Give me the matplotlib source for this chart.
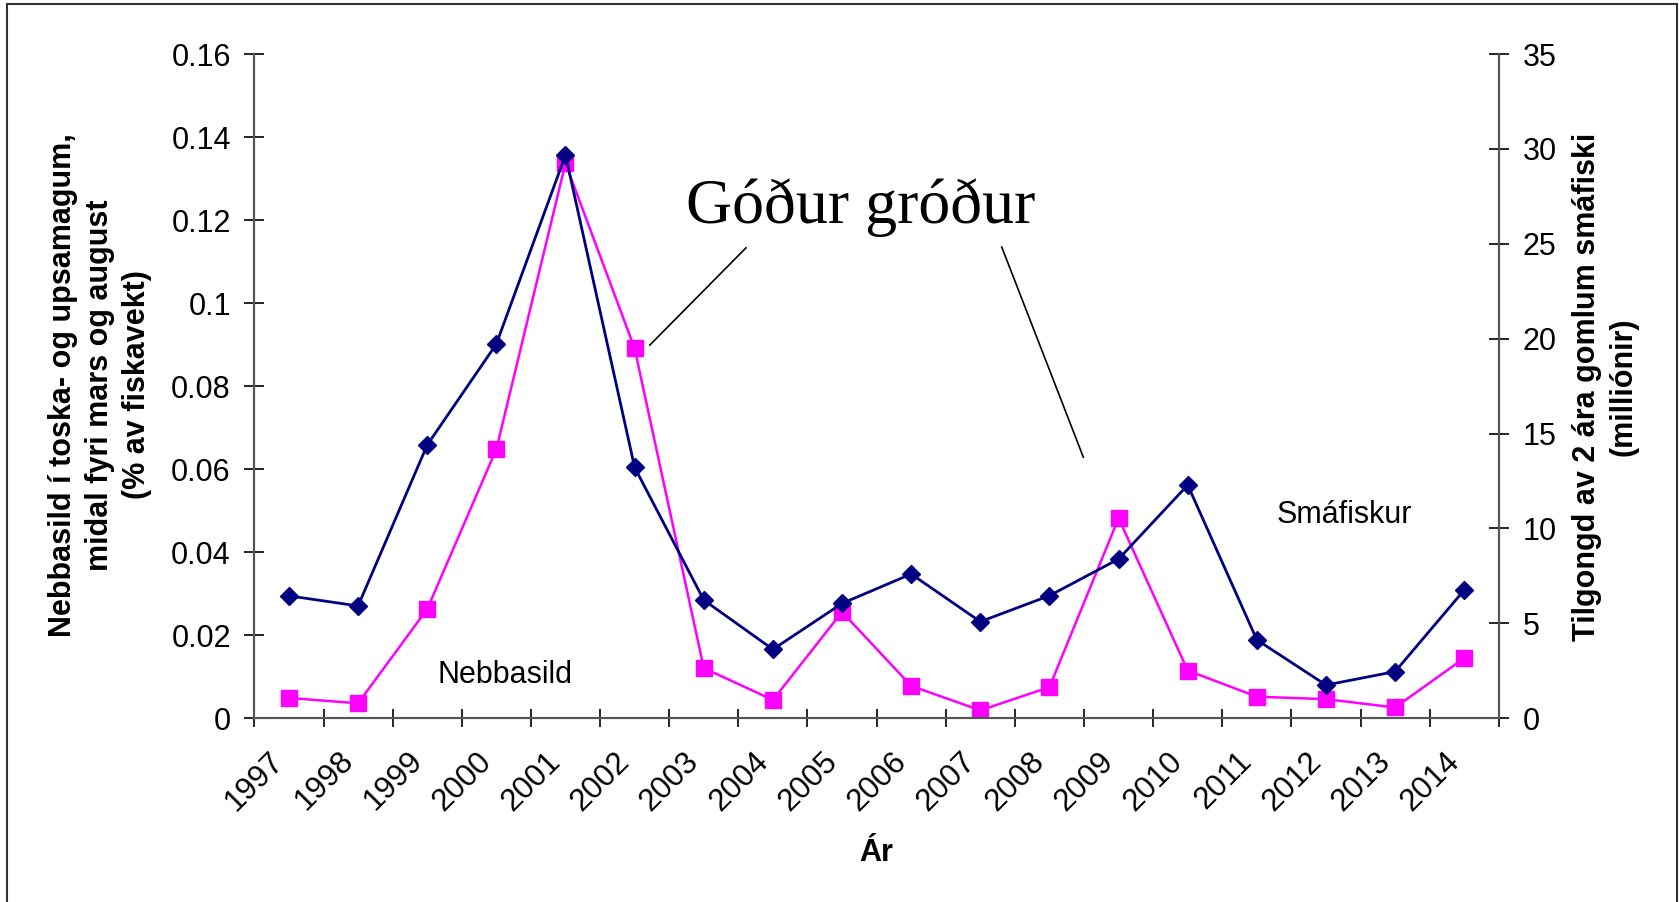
import matplotlib
matplotlib.use("Agg")
import matplotlib.pyplot as plt
import matplotlib.patches as patches
from matplotlib.transforms import ScaledTranslation

plt.rcParams['font.family'] = ['Liberation Sans', 'DejaVu Sans']

years = ['1997', '1998', '1999', '2000', '2001', '2002', '2003', '2004', '2005',
         '2006', '2007', '2008', '2009', '2010', '2011', '2012', '2013', '2014']
# left axis: Nebbasild (% av fiskavekt)
nebbasild = [0.0049, 0.0036, 0.0263, 0.0648, 0.1337, 0.0891, 0.0121, 0.0044, 0.0256,
             0.0078, 0.0019, 0.0075, 0.0482, 0.0115, 0.0052, 0.0046, 0.0026, 0.0145]
# right axis: Smáfiskur (milliónir)
smafiskur = [6.45, 5.92, 14.4, 19.72, 29.68, 13.22, 6.23, 3.63, 6.05,
             7.60, 5.09, 6.46, 8.39, 12.29, 4.13, 1.75, 2.46, 6.76]
left_ticks = [0, 0.02, 0.04, 0.06, 0.08, 0.1, 0.12, 0.14, 0.16]
left_ticklabels = ['0', '0.02', '0.04', '0.06', '0.08', '0.1', '0.12', '0.14', '0.16']
right_ticks = [0, 5, 10, 15, 20, 25, 30, 35]

fig = plt.figure(figsize=(16.79, 9.02), dpi=100)
ax = fig.add_axes([0.1515, 0.2037, 0.7412, 0.7364])
ax2 = ax.twinx()

x = list(range(len(years)))
ax.plot(x, nebbasild, color='#FF00FF', lw=1.8, marker='s', ms=12,
        mec='#FF00FF', mfc='#FF00FF', zorder=3)
ax2.plot(x, smafiskur, color='#000080', lw=2.0, marker='D', ms=9,
         mec='#000080', mfc='#000080', zorder=3)

ax.set_xlim(-0.5, len(years) - 0.5)
ax.set_ylim(0, 0.16)
ax2.set_ylim(0, 35)

# tick marks between categories, labels at category centres
ax.set_xticks([i - 0.5 for i in range(len(years) + 1)])
ax.set_xticklabels([])
ax.set_xticks(x, minor=True)
ax.set_xticklabels(years, minor=True, fontsize=22.5)
ax.tick_params(axis='x', which='major', direction='inout', length=13, width=1.2)
ax.tick_params(axis='x', which='minor', length=0, pad=20)
off = ScaledTranslation(-0.2, 0, fig.dpi_scale_trans)
for lab in ax.get_xticklabels(minor=True):
    lab.set_rotation(45)
    lab.set_ha('right')
    lab.set_rotation_mode('anchor')
    lab.set_transform(lab.get_transform() + off)

ax.set_yticks(left_ticks)
ax.set_yticklabels(left_ticklabels, fontsize=22)
ax.tick_params(axis='y', direction='inout', length=14, width=1.2, pad=10)
ax2.set_yticks(right_ticks)
ax2.set_yticklabels([str(t) for t in right_ticks], fontsize=22)
ax2.tick_params(axis='y', direction='inout', length=14, width=1.2, pad=10)

for a in (ax, ax2):
    a.spines['top'].set_visible(False)
    for s in ('left', 'right', 'bottom'):
        a.spines[s].set_color('#555555')
        a.spines[s].set_linewidth(1.5)

ax.set_xlabel('Ár', fontsize=22, fontweight='bold', va='center')
ax.xaxis.set_label_coords(0.5, -0.203)
ax.set_ylabel('Nebbasild í toska- og upsamagum,\nmidal fyri mars og august\n(% av fiskavekt)',
              fontsize=22, fontweight='bold', va='center', ha='center', linespacing=1.3)
ax.yaxis.set_label_coords(-0.124, 0.502)
ax2.set_ylabel('Tilgongd av 2 ára gomlum smáfiski\n(milliónir)',
               fontsize=22, fontweight='bold', va='center', ha='center', linespacing=1.3,
               rotation=90)
ax2.yaxis.set_label_coords(1.0853, 0.499)

# annotations
ax.text(3.13, 0.0104, 'Nebbasild', fontsize=22, ha='center', va='center')
ax.text(15.26, 0.049, 'Smáfiskur', fontsize=22, ha='center', va='center')
ax.text(8.27, 0.1193, 'Góður gróður', fontsize=46, ha='center', va='baseline',
        family=['Liberation Serif', 'DejaVu Serif'])
ax.plot([6.61, 5.22], [0.1133, 0.0899], color='black', lw=1.2, zorder=4)
ax.plot([10.31, 11.49], [0.1135, 0.0629], color='black', lw=1.2, zorder=4)

# outer frame
fig.patches.append(patches.Rectangle((7 / 1679, -0.05), 1670 / 1679, 1.05 - 4 / 902,
                                     transform=fig.transFigure, fill=False,
                                     edgecolor='#333333', lw=1.5))

fig.savefig('out.png', dpi=100)
